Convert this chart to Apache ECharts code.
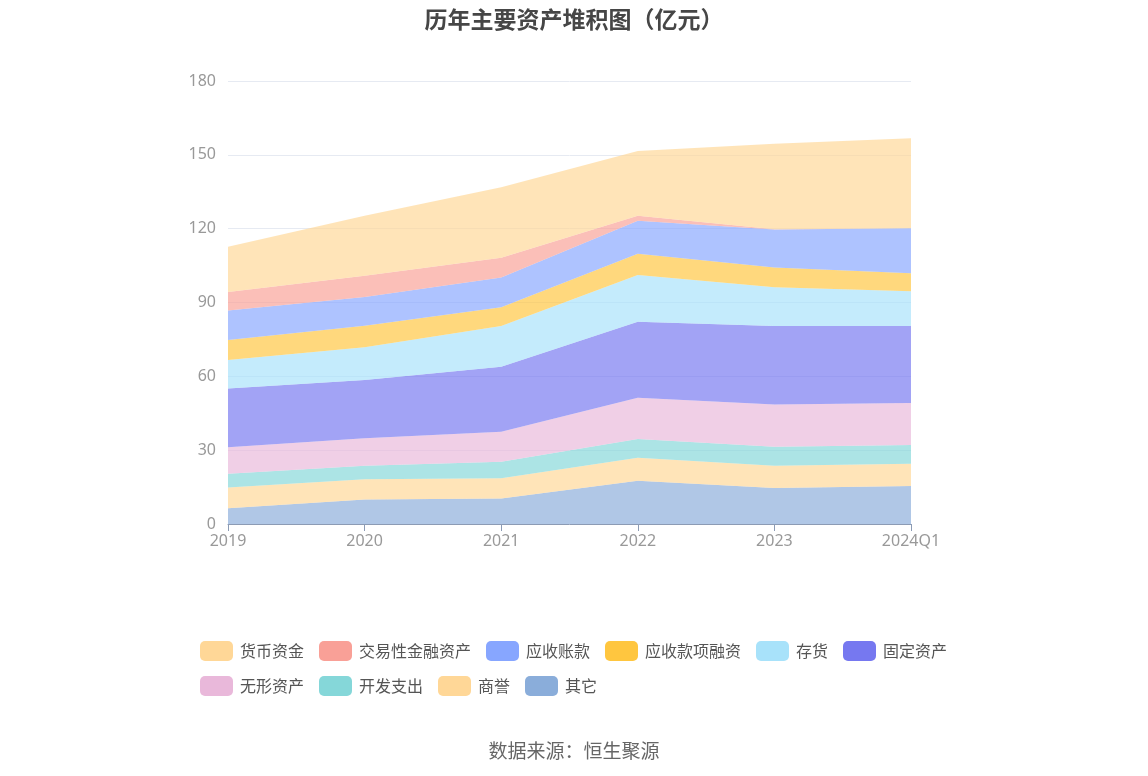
<!DOCTYPE html>
<html lang="zh">
<head>
    <meta charset="utf-8">
    <title>历年主要资产堆积图</title>
    <script src="https://cdn.jsdelivr.net/npm/echarts@6/dist/echarts.min.js"></script>
    <style>
        html, body { margin: 0; padding: 0; background: #fff; }
        #chart { width: 1148px; height: 776px; }
    </style>
</head>
<body>
    <div id="chart"></div>
    <script>
        // 年份
        var years = ['2019', '2020', '2021', '2022', '2023', '2024Q1'];

        // 各项资产（亿元）
        var huobi    = [18.4, 24.3, 28.6, 26.4, 34.7, 36.5];   // 货币资金
        var jiaoyi   = [7.6, 8.7, 8.0, 2.0, 0.1, 0];           // 交易性金融资产
        var yingshou = [11.9, 11.6, 12.1, 13.4, 15.5, 18.3];   // 应收账款
        var rongzi   = [8.2, 8.8, 7.6, 8.6, 8.0, 7.3];         // 应收款项融资
        var cunhuo   = [11.5, 13.3, 16.6, 19.0, 15.7, 14.1];   // 存货
        var guding   = [23.9, 23.7, 26.4, 30.9, 31.9, 31.3];   // 固定资产
        var wuxing   = [10.8, 11.1, 12.2, 16.8, 17.2, 17.1];   // 无形资产
        var kaifa    = [5.6, 5.5, 6.7, 7.6, 7.7, 7.6];         // 开发支出
        var shangyu  = [8.4, 8.2, 8.2, 9.3, 9.1, 9.1];         // 商誉
        var qita     = [6.4, 10.0, 10.4, 17.6, 14.6, 15.4];    // 其它

        var names = ['货币资金', '交易性金融资产', '应收账款', '应收款项融资', '存货',
                     '固定资产', '无形资产', '开发支出', '商誉', '其它'];
        var values = [huobi, jiaoyi, yingshou, rongzi, cunhuo, guding, wuxing, kaifa, shangyu, qita];
        var colors = ['#FFD797', '#F9A097', '#87A6FF', '#FFC63F', '#A8E2FA',
                      '#7678F0', '#E9B8DA', '#85D7D9', '#FFD797', '#8AADDA'];

        // 堆积从底部开始：其它在最下面
        var series = [];
        for (var i = names.length - 1; i >= 0; i--) {
            series.push({
                name: names[i],
                type: 'line',
                stack: 'total',
                data: values[i],
                symbol: 'none',
                lineStyle: { width: 0 },
                itemStyle: { color: colors[i] },
                areaStyle: { color: colors[i], opacity: 0.68 }
            });
        }

        var myChart = echarts.init(document.getElementById('chart'));
        myChart.setOption({
            animation: false,
            title: [{
                text: '历年主要资产堆积图（亿元）',
                left: 'center',
                top: 3,
                textStyle: { fontSize: 23, fontWeight: 'bold', color: '#464646', fontFamily: 'Noto Sans CJK SC' }
            }, {
                text: '数据来源：恒生聚源',
                left: 'center',
                top: 736,
                textStyle: { fontSize: 19, fontWeight: 'normal', color: '#666', fontFamily: 'Noto Sans CJK SC' }
            }],
            legend: {
                data: names,
                left: 195,
                top: 636,
                width: 780,
                itemWidth: 33,
                itemHeight: 20,
                itemGap: 15,
                icon: 'roundRect',
                textStyle: { fontSize: 16, color: '#555', padding: [0, 0, 0, 2], fontFamily: 'Noto Sans CJK SC' }
            },
            grid: { left: 228, right: 237, top: 81, bottom: 252 },
            xAxis: {
                type: 'category',
                data: years,
                boundaryGap: false,
                axisLine: { lineStyle: { color: '#8C9BB4' } },
                axisTick: { alignWithLabel: true, length: 7, lineStyle: { color: '#8C9BB4' } },
                axisLabel: { fontSize: 16, color: '#999', margin: 9, fontFamily: 'Noto Sans' }
            },
            yAxis: {
                type: 'value',
                min: 0,
                max: 180,
                interval: 30,
                axisLine: { show: false },
                axisTick: { show: false },
                axisLabel: { fontSize: 16, color: '#999', margin: 12, fontFamily: 'Noto Sans' },
                splitLine: { lineStyle: { color: '#E6EAF2' } }
            },
            series: series
        });
    </script>
</body>
</html>
